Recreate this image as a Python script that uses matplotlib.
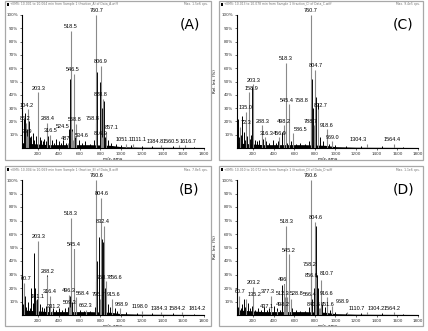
import matplotlib
matplotlib.use("Agg")
import matplotlib.pyplot as plt
from matplotlib import font_manager
from matplotlib.patches import Rectangle

# ---- panel (A) ----
a_mz = [760.7, 518.5, 806.9, 546.5, 203.3, 828.8, 104.2, 86.2, 288.4, 568.8,
        758.8, 524.5, 857.1, 316.5, 96.9, 534.6, 816.9, 487.0, 1051.1, 1111.1,
        1384.8, 1560.5, 1616.7]
a_int = [100, 88, 62, 56, 42, 37, 29, 19, 19, 18, 19, 13, 12, 10, 9, 6, 8, 4,
         3, 3, 2, 2, 2]
a_lab = ["760.7", "518.5", "806.9", "546.5", "203.3", "828.8", "104.2", "86.2",
         "288.4", "568.8", "758.8", "524.5", "857.1", "316.5", "96.9", "534.6",
         "816.9", "487", "1051.1", "1111.1", "1384.8", "1560.5", "1616.7"]
a_minor_mz = [62, 70, 78, 90, 112, 120, 135, 150, 165, 180, 198, 215, 230, 245,
              260, 275, 300, 330, 350, 372, 400, 420, 445, 470, 500, 512, 530,
              552, 590, 620, 650, 700, 740, 765, 800, 812, 836, 850, 870, 900,
              950, 1000, 1100, 1200, 1300, 1500, 1700]
a_minor_int = [22, 12, 26, 14, 20, 8, 9, 11, 6, 9, 40, 8, 6, 5, 7, 5, 9, 6, 4,
               7, 5, 4, 6, 4, 14, 52, 14, 8, 6, 4, 5, 3, 6, 57, 50, 30, 35, 8,
               6, 4, 3, 2, 2, 1.5, 1.5, 1.5, 1]

# ---- panel (C) ----
c_mz = [760.7, 518.3, 804.7, 203.3, 158.9, 545.4, 758.8, 832.7, 135.0, 498.2,
        288.3, 72.3, 788.7, 918.6, 586.5, 316.3, 456.9, 969.0, 1304.3, 1564.4]
c_int = [100, 64, 59, 48, 42, 33, 33, 29, 27, 17, 17, 16, 17, 14, 11, 8, 8, 5,
         3, 3]
c_lab = ["760.7", "518.3", "804.7", "203.3", "158.9", "545.4", "758.8", "832.7",
         "135.0", "498.2", "288.3", "72.3", "788.7", "918.6", "586.5", "316.3",
         "456.9", "969.0", "1304.3", "1564.4"]
c_minor_mz = [55, 62, 80, 95, 110, 125, 145, 170, 185, 195, 215, 240, 260, 300,
              330, 360, 390, 420, 440, 480, 505, 530, 548, 570, 620, 660, 700,
              740, 770, 785, 798, 815, 828, 850, 880, 940, 1000, 1100, 1250,
              1450, 1650]
c_minor_int = [22, 8, 10, 24, 12, 6, 9, 7, 10, 46, 6, 5, 6, 7, 5, 4, 6, 4, 5, 12,
               8, 4, 32, 5, 3, 4, 3, 5, 52, 30, 43, 38, 34, 8, 5, 3, 2, 1.5, 1.5,
               1.5, 1]

# ---- panel (B) ----
b_mz = [760.6, 804.6, 518.3, 832.4, 203.3, 545.4, 288.2, 758.7, 856.6, 60.7,
        496.3, 316.4, 568.4, 181.1, 795.7, 915.6, 509.3, 988.9, 331.2, 662.3,
        1198.0, 1384.3, 1584.2, 1814.2]
b_int = [100, 87, 72, 66, 55, 49, 29, 25, 25, 24, 15, 14, 13, 11, 12, 12, 6, 5,
         3, 4, 3, 2, 2, 1.5]
b_lab = ["760.6", "804.6", "518.3", "832.4", "203.3", "545.4", "288.2", "758.7",
         "856.6", "60.7", "496.3", "316.4", "568.4", "181.1", "795.7", "915.6",
         "509.3", "988.9", "331.2", "662.3", "1198.0", "1384.3", "1584.2",
         "1814.2"]
b_minor_mz = [55, 70, 85, 100, 118, 135, 150, 160, 175, 190, 215, 235, 255,
              275, 290, 310, 340, 370, 400, 430, 460, 490, 505, 530, 548, 600,
              640, 700, 745, 770, 785, 812, 830, 845, 870, 890, 940, 960, 1050,
              1150, 1300, 1500, 1700]
b_minor_int = [8, 14, 6, 10, 5, 20, 9, 46, 20, 12, 8, 6, 5, 7, 30, 6, 5, 4, 5,
               4, 5, 6, 14, 10, 49, 4, 3, 3, 6, 40, 58, 56, 54, 20, 8, 6, 5, 3,
               2, 1.5, 1.5, 1.5, 1]

# ---- panel (D) ----
d_mz = [760.6, 804.6, 518.3, 545.2, 758.2, 810.7, 856.6, 496.0, 203.2, 60.7,
        377.3, 916.6, 512.3, 528.8, 566.4, 135.2, 968.9, 498.2, 437.1, 841.6,
        851.6, 1110.7, 1304.2, 1564.2]
d_int = [100, 69, 66, 45, 34, 28, 26, 23, 21, 14, 14, 13, 13, 13, 12, 12, 7, 5,
         3, 5, 5, 2, 2, 2]
d_lab = ["760.6", "804.6", "518.3", "545.2", "758.2", "810.7", "856.6", "496",
         "203.2", "60.7", "377.3", "916.6", "512.3", "528.8", "566.4", "135.2",
         "968.9", "498.2", "437.1", "841.6", "851.6", "1110.7", "1304.2",
         "1564.2"]
d_minor_mz = [55, 68, 80, 95, 110, 125, 150, 170, 190, 220, 250, 280, 310, 340,
              360, 400, 430, 460, 480, 505, 530, 548, 580, 620, 660, 700, 740,
              775, 790, 798, 815, 825, 835, 870, 900, 950, 1000, 1100, 1250,
              1450, 1650]
d_minor_int = [6, 10, 5, 8, 12, 6, 9, 5, 7, 4, 5, 4, 6, 4, 5, 7, 5, 4, 22, 23,
               8, 41, 5, 4, 3, 3, 6, 12, 20, 66, 66, 30, 20, 8, 6, 4, 2, 1.5,
               1.5, 1.5, 1]

# chemical-noise floor under all four spectra
floor_mz = [45, 100, 200, 300, 500, 700, 900, 1000, 1200, 1800]
floor_int = [4, 3.5, 3, 2.5, 2.5, 2.5, 2, 1, 0.6, 0.4]

# label shifts in (m/z, %) as the acquisition software placed them
nudge = {
    "A": {"104.2": (-11, 0), "86.2": (-7, 0), "96.9": (-7, 0), "524.5": (-90, 0),
          "568.8": (-19, 0), "487": (-24, 0), "534.6": (85, 0), "758.8": (-29, 0),
          "816.9": (-17, 0), "857.1": (48, 0), "828.8": (-25, 0), "806.9": (-4, 0),
          "546.5": (-15, 0), "1051.1": (-26, 0), "1111.1": (62, 0),
          "1384.8": (-54, 0), "1560.5": (-80, 0), "1616.7": (30, 0)},
    "C": {"158.9": (27, 0), "135.0": (-12, 0), "72.3": (60, 0), "203.3": (7, 0),
          "288.3": (10, 0), "316.3": (20, 0), "586.5": (80, 0), "545.4": (-20, 0),
          "758.8": (-85, 0), "788.7": (-25, 0), "832.7": (20, 0), "804.7": (8, 0),
          "1304.3": (-83, 0), "1564.4": (-12, 0)},
    "B": {"60.7": (23, 0), "181.1": (15, 0), "331.2": (15, 0), "509.3": (-9, 0),
          "568.4": (65, 0), "545.4": (-4, 0), "758.7": (70, 0), "795.7": (-15, 0),
          "856.6": (93, 0), "915.6": (15, 0), "988.9": (18, 0), "1198.0": (-16, 0),
          "1384.3": (-15, 0), "1584.2": (-48, 0), "1814.2": (-83, 0),
          "804.6": (9, 0), "832.4": (-9, 0)},
    "D": {"60.7": (13, 0), "135.2": (75, 0), "203.2": (7, 0), "377.3": (-30, 0),
          "437.1": (-100, 0), "496": (-14, 0), "512.3": (-25, 0), "528.8": (95, 0),
          "498.2": (-6, 0), "566.4": (180, 0), "545.2": (5, 0), "758.2": (-13, 0),
          "856.6": (-92, 0), "810.7": (100, 0), "841.6": (-57, 0), "851.6": (69, 0),
          "968.9": (97, 0), "1110.7": (92, 0), "1304.2": (92, 0), "1564.2": (-12, 0),
          "518.3": (13, 0)},
}

headers = {
    "A": "+EMS: 10.001 to 10.064 min from Sample 1 (fraction_A) of Data_A.wiff",
    "C": "+EMS: 10.013 to 10.078 min from Sample 1 (fraction_C) of Data_C.wiff",
    "B": "+EMS: 10.004 to 10.069 min from Sample 1 (fraction_B) of Data_B.wiff",
    "D": "+EMS: 10.010 to 10.072 min from Sample 1 (fraction_D) of Data_D.wiff",
}
maxima = {"A": "Max. 1.5e6 cps.", "C": "Max. 9.4e5 cps.",
          "B": "Max. 7.8e5 cps.", "D": "Max. 1.1e6 cps."}

W, H = 428, 331
fig = plt.figure(figsize=(W / 100, H / 100), dpi=100)
fig.patch.set_facecolor("white")

names = {f.name for f in font_manager.fontManager.ttflist}
lab_font = "Liberation Sans Narrow" if "Liberation Sans Narrow" in names else "Liberation Sans"


def px_rect(x0, y0, x1, y1):
    # pixel box (top-left origin) -> figure fraction rect
    return [x0 / W, (H - y1) / H, (x1 - x0) / W, (y1 - y0) / H]


def draw_panel(key, frame, axbox, mz, inten, labels, minor_mz, minor_int):
    fr = px_rect(*frame)
    fig.add_artist(Rectangle((fr[0], fr[1]), fr[2], fr[3], transform=fig.transFigure,
                             fill=False, edgecolor="#a8a8a8", lw=0.9))
    # header strip
    top = (H - frame[1] - 3.5) / H
    fig.add_artist(Rectangle(((frame[0] + 1.5) / W, top - 1.2 / H), 2.2 / W, 2.4 / H,
                             transform=fig.transFigure, color="black", lw=0))
    fig.text((frame[0] + 5) / W, top, headers[key], fontsize=2.2, color="#707070",
             va="center", ha="left")
    fig.text((frame[2] - 3) / W, top, maxima[key], fontsize=2.2, color="#707070",
             va="center", ha="right")

    ax = fig.add_axes(px_rect(*axbox))
    ax.set_xlim(45, 1800)
    ax.set_ylim(0, 100)
    ax.fill_between(floor_mz, 0, floor_int, color="black", lw=0)
    ax.vlines(minor_mz, 0, minor_int, color="black", lw=0.7)
    ax.vlines(mz, 0, inten, color="#8a8a8a", lw=0.8)
    for m, v, t in zip(mz, inten, labels):
        dx, dy = nudge[key].get(t, (0, 0))
        ax.text(m + dx, v + 1.2 + dy, t, fontsize=4.0, family=lab_font,
                ha="center", va="bottom", color="black", clip_on=False)
    for s in ("top", "right"):
        ax.spines[s].set_visible(False)
    for s in ("left", "bottom"):
        ax.spines[s].set_linewidth(0.8)
    ax.set_xticks(range(200, 1801, 200))
    ax.set_yticks(range(10, 101, 10))
    ax.set_yticklabels([f"{v}%" for v in range(10, 101, 10)])
    ax.tick_params(labelsize=3, length=1.2, width=0.5, pad=1.5, colors="#303030")
    ax.set_xlabel("m/z, amu", fontsize=3, labelpad=1)
    ax.set_ylabel("Rel. Int. (%)", fontsize=3, labelpad=3)
    ax.text(0.92, 0.93, f"({key})", transform=ax.transAxes, fontsize=10,
            ha="center", va="center")
    return ax


draw_panel("A", (5, 1, 211, 160), (22, 15, 204, 148), a_mz, a_int, a_lab,
           a_minor_mz, a_minor_int)
draw_panel("C", (219, 1, 423, 160), (237, 15, 418, 148), c_mz, c_int, c_lab,
           c_minor_mz, c_minor_int)
draw_panel("B", (5, 166, 211, 326), (22, 180, 204, 315), b_mz, b_int, b_lab,
           b_minor_mz, b_minor_int)
draw_panel("D", (219, 166, 423, 326), (237, 180, 418, 315), d_mz, d_int, d_lab,
           d_minor_mz, d_minor_int)

fig.savefig("out.png", dpi=100)
